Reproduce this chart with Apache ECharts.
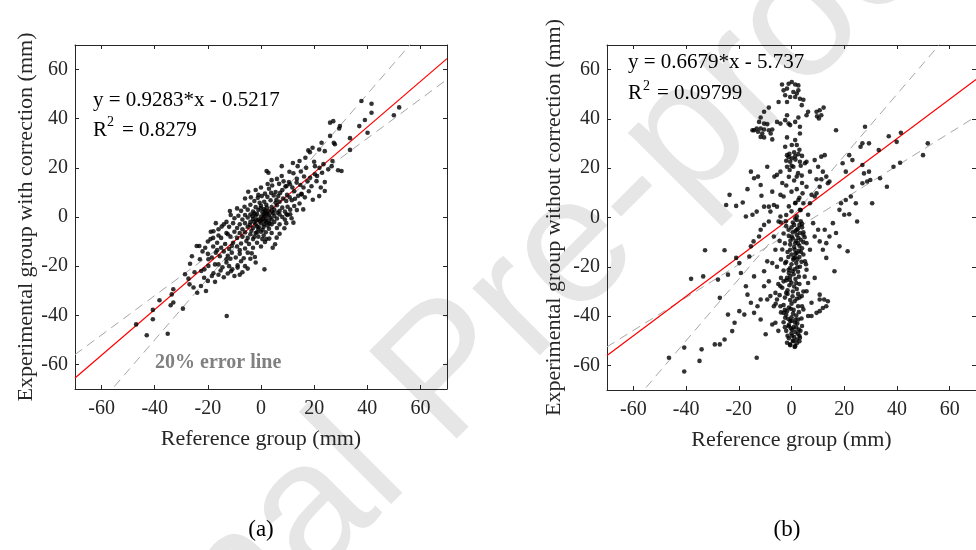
<!DOCTYPE html>
<html>
<head>
<meta charset="utf-8">
<script src="https://cdn.jsdelivr.net/npm/echarts@6/dist/echarts.min.js"></script>
<style>
html, body { margin: 0; padding: 0; background: #fff; }
#chart { width: 976px; height: 550px; }
</style>
</head>
<body>
<div id="chart"></div>
<script>
// tick labels shared by both panels
var tickValues = [-60, -40, -20, 0, 20, 40, 60];

// (a) experimental group with correction vs reference group (mm)
var withCorrection = [
  [37.8,47.2],[41.6,46.1],[41.6,42.4],[37,37],[39.1,39.5],[40.1,34.3],[33.5,32.1],[33.5,27.3],[50,41.4],[52,44.6],
  [26,38.4],[27.2,39],[29.7,37],[29.4,36],[27.4,30.2],[26,33],[27.8,29.6],
  [22.8,30.2],[21.9,27.5],[24,26.8],[19.4,28.2],[17.8,27.1],
  [29,19],[30.3,18.7],[25.3,19.4],[26.6,20.7],[26.9,22.8],
  [24,14.2],[24,10.6],[21.9,8.5],[20.3,17.4],[20.9,14.6],
  [7.8,20.7],[2.1,18.7],[2.8,18],[1.3,-21.3],[-12.9,-40.3],
  [-35.1,-47.5],[-43,-48.1],[-47,-43.7],[-40.7,-41.6],[-40.7,-37.8],
  [-38.2,-33.9],[-34,-35.9],[-33.6,-31.5],[-33,-29.4],[-33,-34.8],[-29.4,-37.3],
  [-28.6,-23.3],[-27.3,-25.1],[-26.9,-27.4],[-25.4,-28.7],[-24,-30.8],[-20.7,-30.1],[-22.6,-28.1],[-26.7,-19],[-23,-17.2],
  [-21.4,-24.7],[-17.3,-26.4],
  [16.7,24.1],[18.4,26.4],[20.3,20.7],[21.1,16.7],[15.9,3.1],[15.3,9.2],[13.4,14],[12.2,17.8],[13.8,20.7],[10.9,13.3],
  [9.6,12.6],[10.7,18.4],[7.8,16.7],[9.6,1.1],[11,1.1],[8.8,-4.6],
  [-5,-21],[-2,-18.5],[-7,-22.5],[0.5,-9],[-18,-8.5],[-20,-10],[-22,-14],
  [18,10.5],[19,12.5],[17.5,14.5],[16.5,8],[18.5,16],[22,20],[23,18],[19.5,7],[14.5,5.5],[16.2,16.5],
  [20,22.5],[22.5,12],[23.5,21.5],[17,20],[15,18.5],[12,22],[14.5,22.8],[6,15.5],[4,15],[8.5,14.5],
  [-18.5,-24],[-16,-23.5],[-20,-26],[-22.5,-22],[-25,-22.5],[-26,-16],[-21,-12.5],[-19,-9],[-16,-5],[-15,-8.5],
  [-13,-2],[-17,-2.5],[-11.5,-17],[-7.5,-18],[-6,-20],[-4,-17],[-14,-24.5],[-10,-24],[-12.5,-23],[-8,-23.5],
  [-4.8,10.3],[-2,11],[0,12],[1.5,9.5],[3,11.5],[4.2,12.8],[5.5,10.2],[6.8,13.5],[8,11],[9.2,12.4],
  [10.5,14.2],[11.8,12],[12.5,10.5],[13.5,15.5],[14.8,13],[16,12],[7.2,9.8],[2.5,13.4],[-1,9],[9.8,9],
  [-6,7.5],[-3.8,8],[-2.5,6.5],[-1.2,7.8],[0.3,8.5],[1.2,6.2],[2.4,8.2],[3.6,6.8],[4.8,8.8],[5.8,7],
  [7,6.2],[8.3,7.5],[9.5,6.5],[10.8,8],[11.6,6.8],[12.8,7.4],[14,8.6],[15.2,9.4],[-0.5,5.8],[6.5,8.5],
  [-9,3.5],[-7.5,2.5],[-6.2,4.2],[-5,3],[-4,5],[-3,2.2],[-2,4],[-1,2.8],[0,4.6],[1,3.2],
  [2,5],[3,2.5],[4,4],[5,3],[6,4.8],[7,2.5],[8,3.8],[9,2.2],[10,4.2],[11,3],
  [12.5,4.5],[13.5,2.8],[-11.7,2.4],[-11.4,0.8],
  [-10,-0.5],[-8.5,0.5],[-7,-1],[-6,0.8],[-5,-0.2],[-4,1],[-3,-0.8],[-2,0.5],[-1,-1],[0,0.2],
  [1,1],[2,-0.5],[3,0.8],[4,-1],[5,0.4],[6,-0.6],[7,1],[8,0],[9,-1],[10,0.8],[11.5,-0.5],[-2.5,1.5],[1.5,-1.5],[4.5,1.5],
  [-14,-3],[-12,-4],[-10.5,-2.5],[-9,-4.5],[-8,-3],[-7,-5],[-6,-2.5],[-5,-4],[-4,-2],[-3,-4.5],
  [-2,-3],[-1,-5],[0,-2.5],[1,-4],[2,-2.2],[3,-4.8],[4,-3],[5,-2],[6,-4.5],[7,-3],
  [9.5,-2.5],[12.2,-2.3],[-1.5,-3.8],[2.5,-3.5],
  [-18.9,-6],[-17.9,-5.8],[-16,-7.5],[-14.8,-3.9],[-13,-6.5],[-11.5,-8],[-10,-6],[-9,-8.5],[-8,-6.5],[-7,-8],
  [-6,-6.2],[-5,-8.5],[-4,-7],[-3,-9],[-2,-6.5],[-1,-8],[0,-6],[1,-7.5],[2,-9],[3.1,-8.8],
  [4,-6.5],[5.9,-8.4],[7,-6.8],[-12.5,-7],
  [-24.2,-11.8],[-23.2,-11.8],[-18,-12],[-16.5,-10.5],[-15,-12.5],[-13.5,-11],[-12,-13],[-10.5,-10.5],[-9,-12],[-7.5,-10.8],
  [-6,-12.8],[-4.5,-11],[-3,-12.5],[-1.5,-10.5],[0,-12],[1.5,-10.2],[5.3,-11.1],[4.4,-12.5],[-8,-13.5],[-11,-11.8],
  [-20,-15],[-18.5,-16.5],[-17,-14.5],[-15.5,-16],[-14,-14],[-12.5,-15.8],[-11,-14.5],[-9.5,-16.5],[-8,-15],[-6.5,-16.8],
  [-5,-14.5],[-3.5,-14.8],[-2.3,-16.3],[-16.5,-13.5],[-13,-17.2],[-19.8,-17.2],
  [-21.3,-21.3],[-19.8,-19.9],[-17.9,-22.9],[-17.3,-19.3],[-16,-19.3],[-14.5,-20.5],[-13,-18.5],[-11.3,-22.1],[-10.8,-21.3],[-8.8,-19.7],
  [-8.8,-20.6],[-15.2,-21.8],[-12,-20],
  [-0.5,-1.8],[0.8,-0.8],[1.8,1.8],[-1.8,-1.2],[0.5,2],[2.8,-1.8],[-0.8,-4.2],[3.5,-0.2],[-3.2,0.3],[1.2,-3],
  [-1.5,1.2],[0.2,-1.2],[1.4,0.4],[2.4,1.2],[-0.2,3.6],[1.6,2.6],[-2.6,-2],[3.2,-2.6],[0.6,-5.2],[-3.6,-5.6],
  [-5.5,-9.8],[-2.5,-8],[1.8,-6.2],[-4.2,-3.2],[5.5,5.8],[3.8,9.8],[-1.5,-6.2],[2.2,3.8],[4.2,2.2],[6.2,1.8]
];

// (b) experimental group without correction vs reference group (mm)
var withoutCorrection = [
  [-3.6,54],[-1.1,54.3],[0.1,55],[1.4,54],[2.6,53.6],[-1.7,52.3],[0.7,50.9],[2,50.3],[-3,51.6],[-2.4,49.6],
  [-0.5,48.9],[3.2,48.2],[4.5,47.8],[-4.9,46.9],[-1.7,46.9],[2.6,51.6],[1.4,48.9],
  [3.9,45.6],[6.3,42.9],[5.7,41.5],[-1.7,41.5],[-2.4,39.5],[-0.5,37.5],[1.4,38.8],[2.6,40.6],[-4.2,38.1],
  [-5.5,38.8],[-1.1,38.1],[3.2,36.8],[3.2,34.1],[1.4,31.4],[2,29.4],[-1.7,32.5],[0.1,29.4],[-2.4,28.7],
  [-10.4,42.9],[-8.6,44.6],[-11.7,40.6],[-12.3,38.8],[-10.4,38.1],[-9.2,37.9],[-14.2,35.4],[-13.2,36.1],[-11.7,36.1],[-10.4,35.7],
  [-8.6,35.4],[-7.3,35.7],[-7.9,34.1],[-11.1,34.1],[-11.7,32.7],[-10.4,32.5],[-7.3,31.7],[-12.7,34.8],[-14.8,35.4],
  [9.5,42.9],[10.7,43.5],[12.2,44.6],[9.7,41.1],[10.4,40.2],[11.3,41.5],
  [-1.7,25.3],[-1.1,24.5],[0.1,24],[1.4,24.9],[2.6,25.7],[-0.5,22.6],[3.2,22.6],[5.1,22],[5.7,22.6],[-1.7,20.6],
  [0.7,20.6],[-0.7,19.3],[2,16.6],[3.9,17],[-4.2,18.6],[-5.5,17.3],[-6.5,16.6],
  [8.8,23.3],[11.3,24.7],[12.6,25.3],[10.1,20.6],[11.9,18.6],[13.2,16.6],[14.4,14.6],[13.8,13.9],[11.3,15.5],[7,18.6],
  [9.5,15.5],[16.9,35.4],[19.4,22],[20.6,18.6],[21.9,25.3],[23.1,23.3],[26.9,21.3],[27.5,17.9],[29.4,18.6],[26.9,13.9],
  [28.7,14.6],[30.6,5.8],[23.1,12.5],[22.5,8.5],[24.4,5.8],[20.6,7.1],[18.8,5.8],[20,1.1],[21.9,1.3],[24.9,-1.6],
  [18.2,3.1],[15.7,-2.3],[16.9,-6.3],[18.2,-11.7],[21.3,-13.7],[16.3,-21.8],[13.2,-16.4],[11.9,-13.1],[10.7,-9.7],[10.1,-5],
  [12.6,-5],[13.2,-10.4],[14.4,-7.7],
  [26.9,30.1],[26.2,28.7],[29.4,30.1],[27.9,36.8],[33.1,27.4],[36.9,33],[36.2,12.5],[39.9,30.7],[38.7,20.6],[41.2,22.2],
  [41.5,34.4],[49.9,25.3],[51.7,30.1],[29.9,15.2],[33.6,15.9],
  [-1.7,-50.8],[-0.5,-51.5],[0.7,-50.2],[2,-49.5],[3.2,-48.8],[1.4,-52.2],[-1.1,-44.1],[0.1,-42],[1.4,-42.7],[2.6,-41.4],
  [-2.4,-40.7],[-3,-38.7],[-1.7,-38],[-4.2,-36],[-5.5,-33.3],[-6.1,-30.6],[-4.2,-27.9],[-3,-25.9],[-1.7,-24.5],[-0.5,-23.9],
  [-1.1,-21.2],[-2.4,-18.5],[0.7,-17.1],[2,-14.4],[-0.5,-13.1],[1.4,-10.4],[0.1,-7.7],[2,-5],[3.2,-6.3],[-1.1,-5],
  [-12.9,-36],[-14.2,-38.7],[-15.4,-34.6],[-11.7,-41.4],[-9.8,-47.4],[-17.9,-39.4],[-19.8,-38],[-24.1,-39.4],[-21.6,-42.7],[-22.5,-46.1],
  [-25.4,-49.5],[-27.2,-51.5],[-29.1,-51.5],[-13.2,-56.9],[-34.1,-53.5],[-34.9,-58.2],[-40.7,-52.8],[-40.7,-62.5],[-46.5,-56.9],[-38.1,-24.9],
  [-33.5,-23.9],[-32.8,-13.3],[-25.4,-13.3],[-27.9,-25.2],[-27.2,-32.6],[-24.1,-23.2],[-21,-16.4],[-19.8,-18.5],[-19.2,-22.5],[-17.3,-27.9],
  [-16.7,-31.3],[-14.2,-23.9],[-16,-15.8],[-15.4,-11.7],[-14.4,-9.7],[-12.3,-7.7],[-11.7,-5],[-10.4,-3],[-8.6,-1.6],[-8,2.4],
  [-8.6,4.4],[-10.4,4.4],[-13.2,2.4],[-14.8,1.1],[-17.3,0.4],[-18.5,6.1],[-21,4.7],[-23.5,9.2],[-24.8,5.1],[-16.7,11.5],
  [-14.2,15.9],[-12.7,16.6],[-11.7,13.2],[-11.4,8.8],[-15.4,18.6],[-9.2,20.6],[-7.3,10.5],[-6.7,5.1],[-5.5,4.4],[-4.2,9.2],
  [-4.2,0.4],[-4.9,-1.6],[-6.7,-7.7],[-6.1,-13.1],[-7.3,-18.5],[-9.2,-17.8],[-10.4,-21.8],[-8.6,-25.9],[-10.4,-27.9],[-11.7,-33.3],
  [-9.2,-33.3],[-8,-31.9],[-6.7,-36],[-6.1,-42.7],[-7.3,-43.4],
  [5.7,-21.2],[6.3,-26.6],[3.9,-31.9],[4.5,-37.3],[6.3,-40],[7.6,-40],[9.5,-38.7],[10.7,-38],[11.9,-36.7],[13.2,-36],
  [10.7,-33.3],[12.4,-33.3],[13.8,-34],[10.7,-31.3],[8.8,-24.5],[5.7,-29.9],[7.6,-34.6],[5.1,-17.8],[7,-13.1],[5.7,-10.4],
  [8.8,-7.7],[4.5,-7],[8.2,-2.3],[6.3,1.1],[7,5.8],[4.5,5.8],[8.8,8.5],[7.6,9.2],[9.5,9.8],[10.7,12.5],
  [5.7,12.5],[4.2,9.8],[2.6,7.1],[3.2,3.1],[1.4,5.8],
  [-4,-2],[-2,-3.5],[0,-4],[1.5,-5.5],[3,-3],[4.5,-6],[-3,-6.5],[-1,-7.5],[0.5,-8.5],[2,-7],
  [3.5,-9],[5,-8],[-4.5,-9.5],[-2.5,-10.5],[-0.5,-11],[1,-12],[2.5,-10.5],[4,-12.5],[-3.5,-13],[-1.5,-14],
  [0,-15],[1.5,-14.5],[3,-16],[4.5,-15],[-4,-17],[-2,-18],[0,-19],[1.8,-18.5],[3.2,-20],[-3,-21.5],
  [-1,-22.5],[0.8,-23],[2.5,-22],[-4,-24.5],[-2,-25.5],[0,-26.5],[1.5,-25],[3,-27],[-3.5,-28.5],[-1.5,-29.5],
  [0.5,-30],[2,-29],[-4.5,-31.5],[-2.5,-32.5],[-0.5,-33.5],[1.2,-34],[3,-32.5],[-3,-35.5],[-1,-36.5],[0.8,-37.5],
  [2.5,-36],[-4,-38.5],[-2,-39.5],[0,-40.5],[1.8,-39.8],[-3,-42.5],[-1,-43.5],[0.8,-44.5],[2.2,-43],[-2,-46],
  [0,-47],[1.5,-46.5],[3,-48],[-1,-49],[0.5,-50],[2,-51],[3,-50.2],[-0.5,-51.8],[1.2,-52.5],[1,-48.5],
  [2.8,-45.5],[-1.5,-48],[4,-44],[3.8,-41],[-5,-27],[5,-24],[5.5,-19],[-5.5,-20],[4.5,-30],[-6,-35],
  [4,-36],[-5,-46],[5.5,-47],
  [0.5,-2],[2,-1],[3.5,-1.5],[1,-3],[2.5,-4.5],[4,-4],[0.5,-6],[1.8,-9.5],[3,-11.5],[4.5,-10],
  [1.2,-13],[2.8,-13.5],[0.8,-16.5],[2.2,-17],[3.8,-18],[-0.5,-20.5],[1.2,-21],[2.8,-24],[-0.8,-27.5],[1,-28],
  [2.5,-31],[-1.5,-31],[0,-35],[-2.5,-37.5],[1.5,-41.5],[-0.5,-42],[0.3,-45.5],[-2.5,-44.5],
  [-2,1],[0,2.5],[2,0.5],[3.5,3],[-1,4.5],[1.5,6],[3,8],[-3,8.5],[0,10.5],[2,11.5],
  [-2,13],[4,14],[1,15],[-1,16.5],[2.5,18],[0,21],[-2,23],[1.5,23.5],[3.5,21],[-0.8,25.8],
  [1,26.5],[4,25],[3,27.5],[-3.5,14],
  [0.2,-48],[2.4,-47.2],[-0.2,-45],[1.8,-44.6],[3.4,-46],[-1.2,-41.2],[0.6,-39],[2.8,-38.4],[-0.3,-37],[2,-33],
  [0.4,-32],[-2,-30.6],[1.8,-26.6],[-0.6,-25.4],[2.2,-20.2],[0.4,-21.8],[-1.2,-16],[1.4,-16],[3.6,-14],[-0.4,-9.4],
  [2.6,-8.2],[4,-2.6],[-2.2,-1.5],[1.4,-0.4]
];

// line end points (x = -70 and x = 70)
var fitLineA = [[-70, -65.5], [70, 64.46]];
var upperErrA = [[-70, -87.5], [70, 87.5]];
var lowerErrA = [[-70, -56], [70, 56]];
var fitLineB = [[-70, -56], [70, 56]];
var upperErrB = [[-70, -87.5], [70, 87.5]];
var lowerErrB = [[-70, -52.5], [70, 41.0]];

var serif = '"Liberation Serif", "Times New Roman", serif';
var axisColor = '#262626';

var dom = document.getElementById('chart');
var myChart = echarts.init(dom, null, { renderer: 'canvas' });

function xAxes(gi) {
    var base = {
        gridIndex: gi, type: 'value', min: -70, max: 70,
        splitLine: { show: false },
        axisLine: { show: true, onZero: false, lineStyle: { color: axisColor, width: 1 } }
    };
    return [
        Object.assign({}, base, {
            position: 'bottom',
            name: 'Reference group (mm)', nameLocation: 'middle', nameGap: 39,
            nameTextStyle: { fontFamily: serif, fontSize: 22, color: axisColor },
            axisTick: { show: true, inside: true, length: 4, customValues: tickValues, lineStyle: { color: axisColor } },
            axisLabel: { show: true, customValues: tickValues, margin: 10, fontFamily: serif, fontSize: 20, color: axisColor }
        }),
        Object.assign({}, base, {
            position: 'top',
            axisTick: { show: true, inside: true, length: 4, customValues: tickValues, lineStyle: { color: axisColor } },
            axisLabel: { show: false }
        })
    ];
}

function yAxes(gi, title, gap) {
    var base = {
        gridIndex: gi, type: 'value', min: -70, max: 70,
        splitLine: { show: false },
        axisLine: { show: true, onZero: false, lineStyle: { color: axisColor, width: 1 } }
    };
    return [
        Object.assign({}, base, {
            position: 'left',
            name: title, nameLocation: 'middle', nameGap: gap, nameRotate: 90,
            nameTextStyle: { fontFamily: serif, fontSize: 22, color: axisColor },
            axisTick: { show: true, inside: true, length: 4, customValues: tickValues, lineStyle: { color: axisColor } },
            axisLabel: { show: true, customValues: tickValues, margin: 7, fontFamily: serif, fontSize: 20, color: axisColor }
        }),
        Object.assign({}, base, {
            position: 'right',
            axisTick: { show: true, inside: true, length: 4, customValues: tickValues, lineStyle: { color: axisColor } },
            axisLabel: { show: false }
        })
    ];
}

function lineSeries(xi, yi, data, color, dashed) {
    return {
        type: 'line', xAxisIndex: xi, yAxisIndex: yi, data: data,
        showSymbol: false, symbol: 'none', clip: true, silent: true,
        lineStyle: { color: color, width: dashed ? 1 : 1.2, type: dashed ? [9, 6] : 'solid' },
        z: 3
    };
}

function dots(xi, yi, data) {
    return {
        type: 'scatter', xAxisIndex: xi, yAxisIndex: yi, data: data,
        symbol: 'circle', symbolSize: 4.6,
        itemStyle: { color: '#000' }, z: 4
    };
}

function txt(x, y, s, size, extra) {
    return {
        type: 'text', x: x, y: y, silent: true, z: 10,
        style: Object.assign({
            text: s, fill: '#000', verticalAlign: 'middle',
            font: size + 'px ' + serif
        }, extra || {})
    };
}

var option = {
    backgroundColor: '#fff',
    animation: false,
    grid: [
        { left: 75, top: 45, width: 372, height: 344 },
        { left: 607, top: 45, width: 375, height: 345 }
    ],
    xAxis: xAxes(0).concat(xAxes(1)),
    yAxis: yAxes(0, 'Experimental group with correction (mm)', 38)
        .concat(yAxes(1, 'Experimental group without correction (mm)', 42)),
    series: [
        lineSeries(0, 0, upperErrA, '#a6a6a6', true),
        lineSeries(0, 0, lowerErrA, '#a6a6a6', true),
        lineSeries(0, 0, fitLineA, '#ff0000', false),
        dots(0, 0, withCorrection),
        lineSeries(2, 2, upperErrB, '#a6a6a6', true),
        lineSeries(2, 2, lowerErrB, '#a6a6a6', true),
        lineSeries(2, 2, fitLineB, '#ff0000', false),
        dots(2, 2, withoutCorrection)
    ],
    graphic: [
        {
            type: 'text', x: 450, y: 375, rotation: 45 * Math.PI / 180, silent: true, z: -1,
            style: {
                text: 'Journal Pre-proof', fill: '#e6e6e6', align: 'center', verticalAlign: 'middle',
                font: '180px "Liberation Sans", Arial, sans-serif'
            }
        },
        txt(93, 100, 'y = 0.9283*x - 0.5217', 21),
        txt(93, 130, 'R', 21),
        txt(107, 122, '2', 14),
        txt(122, 130, '= 0.8279', 21),
        txt(155, 363, '20% error line', 20, { fill: '#808080', font: 'bold 20px ' + serif }),
        txt(628, 62, 'y = 0.6679*x - 5.737', 21),
        txt(628, 93, 'R', 21),
        txt(643, 86, '2', 14),
        txt(657, 93, '= 0.09799', 21),
        txt(261, 530, '(a)', 23, { align: 'center' }),
        txt(787, 530, '(b)', 23, { align: 'center' })
    ]
};

if (option && typeof option === 'object') {
    myChart.setOption(option);
}
</script>
</body>
</html>
